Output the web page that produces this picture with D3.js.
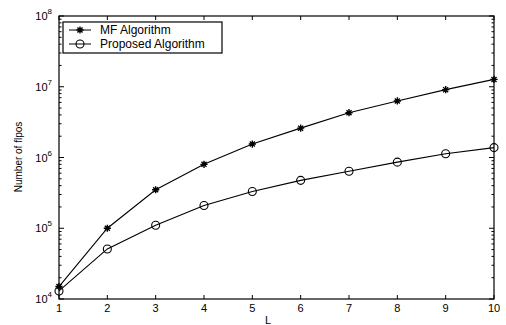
<!DOCTYPE html>
<html><head><meta charset="utf-8">
<script src="https://cdn.jsdelivr.net/npm/d3@7"></script>
<style>body{margin:0;background:#fff;}svg{display:block;}text{font-family:"Liberation Sans",Arial,sans-serif;fill:#000;}</style>
</head><body><svg id="c" width="506" height="325"></svg>
<script>
const L = [1,2,3,4,5,6,7,8,9,10];
const mfValues = [1.5e4, 1.0e5, 3.5e5, 8.0e5, 1.55e6, 2.6e6, 4.3e6, 6.3e6, 9.1e6, 1.27e7];
const proposedValues = [1.3e4, 5.1e4, 1.1e5, 2.1e5, 3.3e5, 4.75e5, 6.4e5, 8.6e5, 1.13e6, 1.38e6];
const yTickExps = [4,5,6,7,8];
const seriesNames = ["MF Algorithm", "Proposed Algorithm"];

const svg = d3.select("#c");
const m = {l:59, r:494, t:16, b:299};
const x = d3.scaleLinear().domain([1,10]).range([m.l, m.r]);
const y = d3.scaleLog().domain([1e4,1e8]).range([m.b, m.t]);

svg.append("rect").attr("x",m.l).attr("y",m.t).attr("width",m.r-m.l).attr("height",m.b-m.t)
  .attr("fill","none").attr("stroke","#000").attr("stroke-width",1.2);

const tl = 4;
L.forEach(v=>{
  svg.append("line").attr("x1",x(v)).attr("x2",x(v)).attr("y1",m.b).attr("y2",m.b-tl).attr("stroke","#000");
  svg.append("line").attr("x1",x(v)).attr("x2",x(v)).attr("y1",m.t).attr("y2",m.t+tl).attr("stroke","#000");
  svg.append("text").attr("x",x(v)).attr("y",312).attr("text-anchor","middle").attr("font-size",11).text(v);
});
for (let e=4;e<8;e++){
  for (let k=2;k<=9;k++){
    const yy = y(k*Math.pow(10,e));
    svg.append("line").attr("x1",m.l).attr("x2",m.l+2.5).attr("y1",yy).attr("y2",yy).attr("stroke","#000");
    svg.append("line").attr("x1",m.r).attr("x2",m.r-2.5).attr("y1",yy).attr("y2",yy).attr("stroke","#000");
  }
}
yTickExps.forEach(e=>{
  const yy = y(Math.pow(10,e));
  svg.append("line").attr("x1",m.l).attr("x2",m.l+tl+1).attr("y1",yy).attr("y2",yy).attr("stroke","#000");
  svg.append("line").attr("x1",m.r).attr("x2",m.r-tl-1).attr("y1",yy).attr("y2",yy).attr("stroke","#000");
  const t = svg.append("text").attr("x",m.l-7).attr("y",yy+4).attr("text-anchor","end").attr("font-size",11);
  t.append("tspan").text("10");
  t.append("tspan").attr("dy",-6).attr("font-size",8).text(e);
});

svg.append("text").attr("x",268).attr("y",324).attr("text-anchor","middle").attr("font-size",11).text("L");
svg.append("text").attr("transform","translate(22,157) rotate(-90)").attr("text-anchor","middle").attr("font-size",10).text("Number of flpos");

const line = d3.line().x((d,i)=>x(L[i])).y(d=>y(d));
svg.append("path").datum(mfValues).attr("d",line).attr("fill","none").attr("stroke","#000").attr("stroke-width",1.1);
svg.append("path").datum(proposedValues).attr("d",line).attr("fill","none").attr("stroke","#000").attr("stroke-width",1.1);

function star(g, cx, cy, s){
  g.append("path").attr("d",`M${cx-s},${cy}L${cx+s},${cy}M${cx},${cy-s}L${cx},${cy+s}M${cx-s*0.7},${cy-s*0.7}L${cx+s*0.7},${cy+s*0.7}M${cx-s*0.7},${cy+s*0.7}L${cx+s*0.7},${cy-s*0.7}`)
   .attr("stroke","#000").attr("stroke-width",1.4).attr("fill","none");
}
function circ(g, cx, cy, r){
  g.append("circle").attr("cx",cx).attr("cy",cy).attr("r",r).attr("fill","none").attr("stroke","#000").attr("stroke-width",1.1);
}
mfValues.forEach((v,i)=>star(svg, x(L[i]), y(v), 3.6));
proposedValues.forEach((v,i)=>circ(svg, x(L[i]), y(v), 4));

const lg = svg.append("g");
lg.append("rect").attr("x",63).attr("y",22).attr("width",159).attr("height",31).attr("fill","#fff").attr("stroke","#000").attr("stroke-width",1.2);
lg.append("line").attr("x1",69).attr("x2",91).attr("y1",30).attr("y2",30).attr("stroke","#000");
star(lg, 80, 30, 3.6);
lg.append("text").attr("x",100).attr("y",34).attr("font-size",12).text(seriesNames[0]);
lg.append("line").attr("x1",69).attr("x2",91).attr("y1",44).attr("y2",44).attr("stroke","#000");
circ(lg, 80, 44, 4);
lg.append("text").attr("x",100).attr("y",48).attr("font-size",12).text(seriesNames[1]);
</script></body></html>
